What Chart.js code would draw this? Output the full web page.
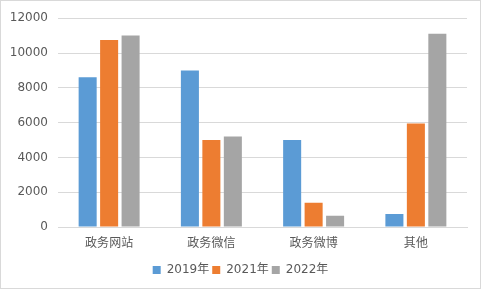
<!DOCTYPE html>
<html>
<head>
<meta charset="utf-8">
<script src="https://cdn.jsdelivr.net/npm/chart.js@4"></script>
<style>
  html, body { margin: 0; padding: 0; background: #fff; }
  #wrap { width: 479px; height: 287px; border: 1px solid #D9D9D9; position: relative; }
</style>
</head>
<body>
<div id="wrap"><canvas id="chart" width="479" height="287"></canvas></div>
<script>
// categories and series
const categories = ['政务网站', '政务微信', '政务微博', '其他'];
const series2019 = [8600, 9000, 5000, 750];
const series2021 = [10750, 5000, 1400, 5950];
const series2022 = [11000, 5200, 650, 11100];
const seriesNames = ['2019年', '2021年', '2022年'];
const yTicks = [0, 2000, 4000, 6000, 8000, 10000, 12000];

const fontFamily = '"DejaVu Sans", "Noto Sans CJK SC", sans-serif';
const textColor = '#595959';

// nudge the legend a little to the right so it sits centred under the whole box
const legendShift = {
    id: 'legendShift',
    afterLayout(chart) {
        if (chart.legend) chart.legend.left += 13;
    }
};

const ctx = document.getElementById('chart').getContext('2d');
new Chart(ctx, {
    type: 'bar',
    data: {
        labels: categories,
        datasets: [
            { label: seriesNames[0], data: series2019, backgroundColor: '#5B9BD5' },
            { label: seriesNames[1], data: series2021, backgroundColor: '#ED7D31' },
            { label: seriesNames[2], data: series2022, backgroundColor: '#A5A5A5' }
        ]
    },
    options: {
        responsive: false,
        animation: false,
        datasets: { bar: { categoryPercentage: 0.63, barPercentage: 0.84 } },
        layout: { padding: { top: 11, right: 13, left: 0, bottom: 2 } },
        plugins: {
            tooltip: { enabled: false },
            legend: {
                position: 'bottom',
                labels: {
                    color: textColor,
                    font: { family: fontFamily, size: 12 },
                    boxWidth: 8, boxHeight: 8,
                    padding: 3
                }
            }
        },
        scales: {
            x: {
                grid: { display: false },
                border: { color: '#D9D9D9' },
                ticks: { color: textColor, font: { family: fontFamily, size: 12 }, padding: 2 },
                afterFit: (scale) => { scale.height = 34; }
            },
            y: {
                min: 0, max: 12000,
                afterBuildTicks: (scale) => { scale.ticks = yTicks.map(v => ({ value: v })); },
                grid: { color: '#D9D9D9', drawTicks: false },
                border: { display: false },
                ticks: {
                    color: textColor, font: { family: fontFamily, size: 12 }, padding: 10,
                    callback: (v) => String(v)
                },
                afterFit: (scale) => { scale.width = 57; }
            }
        }
    },
    plugins: [legendShift]
});
</script>
</body>
</html>
